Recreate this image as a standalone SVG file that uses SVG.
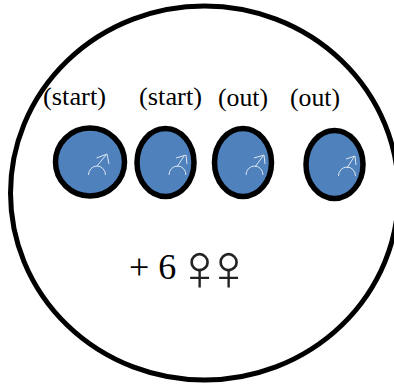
<svg xmlns="http://www.w3.org/2000/svg" width="394" height="385" viewBox="0 0 394 385">
<style>
.b{fill:#4f81bd;stroke:#000;stroke-width:5.5}
.t{font-family:"Liberation Serif",serif;font-size:25.5px;fill:#000}
.m{fill:none;stroke:#dce6f2;stroke-width:1}
.f{font-family:"Liberation Serif",serif;font-size:66px;fill:#222}
</style>
<rect width="394" height="385" fill="#fff"/>
<g id="outer"><ellipse cx="204.500" cy="193" rx="194" ry="187" fill="none" stroke="#000" stroke-width="5"/></g>
<g id="connectors"/>
<g id="n1"><ellipse class="b" cx="90" cy="162" rx="34.500" ry="34"/><path class="m" d="M88.500 175a8.500 9 0 0 1 17 0M97 166l9-11M96.500 158l10.500-4 2 10"/><text class="t" x="43" y="105" textLength="63" lengthAdjust="spacingAndGlyphs">(start)</text></g>
<g id="n2"><ellipse class="b" cx="165.500" cy="162.500" rx="28.500" ry="34"/><path class="m" d="M169 175a8.500 9 0 0 1 17 0M177 167l7-11M176 158l10-3 1 9"/><text class="t" x="139" y="105" textLength="63" lengthAdjust="spacingAndGlyphs">(start)</text></g>
<g id="n3"><ellipse class="b" cx="243" cy="162.500" rx="28.500" ry="34"/><path class="m" d="M246 175a8.500 9 0 0 1 17 0M255 167l8-11M254 158l10-3 1 9"/><text class="t" x="218" y="106" textLength="50" lengthAdjust="spacingAndGlyphs">(out)</text></g>
<g id="n4"><ellipse class="b" cx="334.500" cy="164.500" rx="28.500" ry="34"/><path class="m" d="M338.500 176a8.500 9 0 0 1 17 0M347 168l7-11M346 159l9-3 1 9"/><text class="t" x="290" y="106" textLength="50" lengthAdjust="spacingAndGlyphs">(out)</text></g>
<g id="females"><text x="129" y="279" font-family="Liberation Serif, serif" font-size="36">+ 6</text><text class="f" x="175 204" y="290">♀♀</text></g>
</svg>
